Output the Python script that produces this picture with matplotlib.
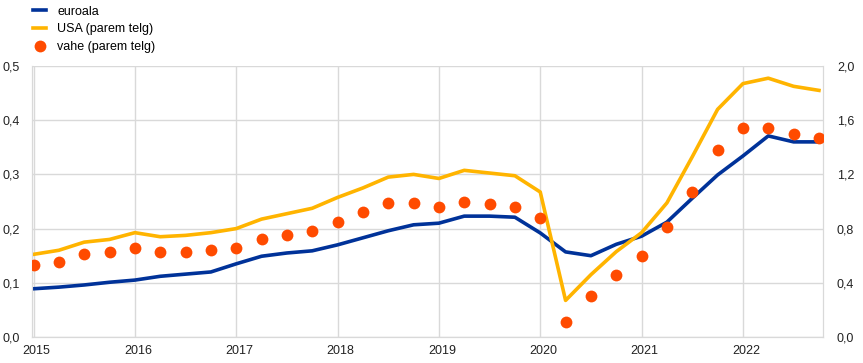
import matplotlib.pyplot as plt
import matplotlib.transforms as mtransforms

plt.rcParams['font.family'] = ['Liberation Sans', 'DejaVu Sans']

# quarterly observations, 2015Q1 .. 2022Q4
quarters = [2015 + i * 0.25 for i in range(32)]

# euro area (left axis)
euro = [0.089, 0.092, 0.096, 0.101, 0.105, 0.112, 0.116, 0.120,
        0.135, 0.149, 0.155, 0.159, 0.170, 0.183, 0.196, 0.207,
        0.210, 0.223, 0.223, 0.221, 0.192, 0.157, 0.150, 0.171,
        0.186, 0.212, 0.256, 0.299, 0.334, 0.371, 0.360, 0.360]

# USA (right axis)
usa = [0.61, 0.64, 0.70, 0.72, 0.77, 0.74, 0.75, 0.77,
       0.80, 0.87, 0.91, 0.95, 1.03, 1.10, 1.18, 1.20,
       1.17, 1.23, 1.21, 1.19, 1.07, 0.27, 0.46, 0.63,
       0.77, 0.99, 1.33, 1.68, 1.87, 1.91, 1.85, 1.82]

# difference (right axis)
diff = [0.53, 0.55, 0.61, 0.63, 0.66, 0.63, 0.63, 0.64,
        0.66, 0.72, 0.75, 0.78, 0.85, 0.92, 0.99, 0.99,
        0.96, 1.00, 0.98, 0.96, 0.88, 0.11, 0.30, 0.46,
        0.60, 0.81, 1.07, 1.38, 1.54, 1.54, 1.50, 1.47]

years = list(range(2015, 2023))
left_ticks = [0.0, 0.1, 0.2, 0.3, 0.4, 0.5]
right_ticks = [0.0, 0.4, 0.8, 1.2, 1.6, 2.0]

BLUE = '#003299'
YELLOW = '#FFB400'
ORANGE = '#FF4B00'
GRID = '#d9d9d9'

fig = plt.figure(figsize=(8.63, 3.63), dpi=100)
ax = fig.add_axes([32 / 863, 26 / 363, 791 / 863, 271 / 363])
ax2 = ax.twinx()

l1, = ax.plot(quarters, euro, color=BLUE, lw=2.6, zorder=3, label='euroala')
l2, = ax2.plot(quarters, usa, color=YELLOW, lw=2.6, zorder=2, label='USA (parem telg)')
l3, = ax2.plot(quarters, diff, 'o', color=ORANGE, ms=8.5, mec='none', zorder=4,
               label='vahe (parem telg)')

ax.set_xlim(2014.985, 2022.79)
ax.set_ylim(0, 0.5)
ax2.set_ylim(0, 2.0)
ax.set_yticks(left_ticks)
ax.set_yticklabels([f'{v:.1f}'.replace('.', ',') for v in left_ticks])
ax2.set_yticks(right_ticks)
ax2.set_yticklabels([f'{v:.1f}'.replace('.', ',') for v in right_ticks])
ax.set_xticks(years)
ax.set_xticklabels([str(y) for y in years])

for a in (ax, ax2):
    a.tick_params(length=0, labelsize=9, colors='#222222')
    for s in a.spines.values():
        s.set_color(GRID)
    a.spines['top'].set_visible(False)
ax.tick_params(axis='y', pad=9)
ax.tick_params(axis='x', pad=6)
ax2.tick_params(axis='y', pad=10)
ax.grid(True, color=GRID, lw=1)
ax.set_axisbelow(True)

# shift year labels slightly right of the gridlines
offset = mtransforms.ScaledTranslation(3 / 100, 0, fig.dpi_scale_trans)
for lbl in ax.get_xticklabels():
    lbl.set_transform(lbl.get_transform() + offset)

fig.legend(handles=[l1, l2, l3], loc='upper left', bbox_to_anchor=(0.03, 1.005),
           frameon=False, fontsize=9, handlelength=1.0, handletextpad=0.9,
           labelspacing=0.45, borderaxespad=0.2)

fig.savefig('out.png', dpi=100)
